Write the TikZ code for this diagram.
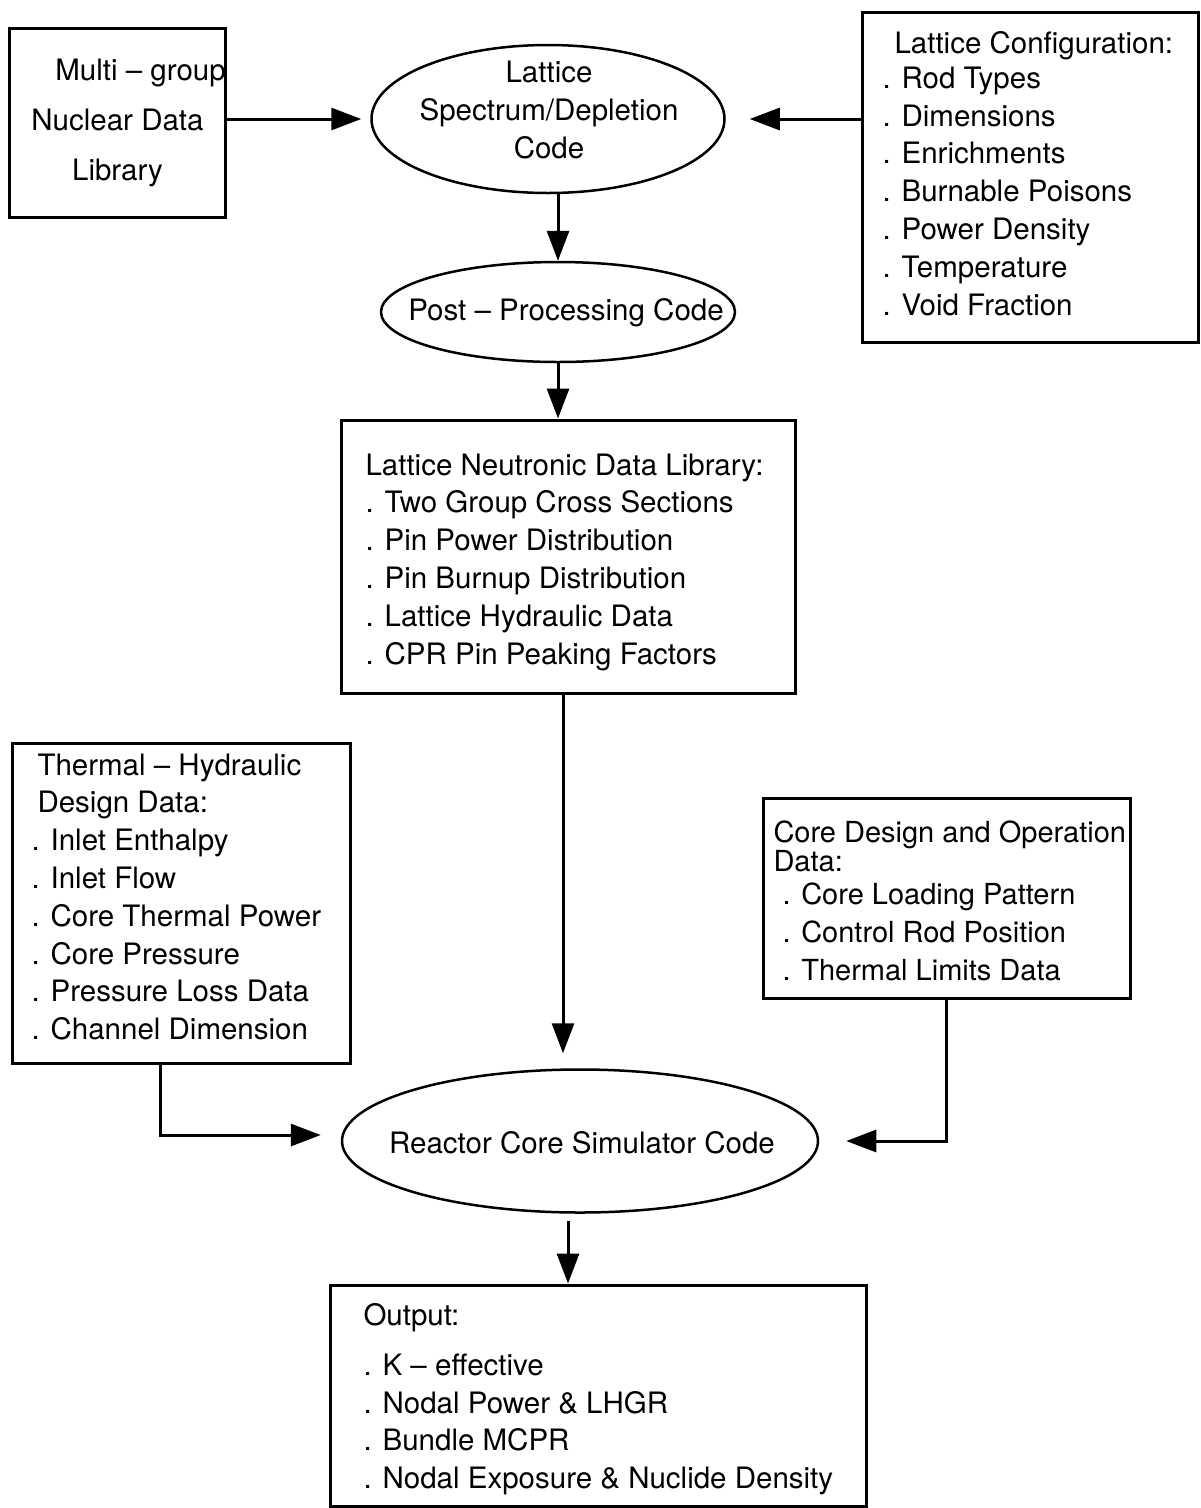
\documentclass[tikz,border=0pt]{standalone}
\usepackage{fontspec}
\setmainfont{TeX Gyre Heros}
\usetikzlibrary{arrows.meta,shapes.geometric}

\tikzset{
	box/.style={draw, line width=3pt},
	oval/.style={draw, ellipse, line width=2.5pt, inner sep=0pt},
	txt/.style={inner sep=0pt, align=left, anchor=north west},
}

\begin{document}
\begin{tikzpicture}[x=1pt, y=-1pt, line width=3pt, arrows={-Triangle[length=30pt,width=22pt]},
	every node/.style={font=\fontsize{29.5}{37.8}\selectfont}]
	\useasboundingbox (0,0) rectangle (1201,1508);

	% inputs of the lattice code
	\node [box, inner sep=0pt, minimum width=211pt, minimum height=189pt, align=center] (mgl) at (117.5,122.5)
		{\hspace*{46pt}Multi -- group\\[12.2pt]Nuclear Data\\[12.2pt]Library};
	\node [oval, minimum width=353pt, minimum height=148pt] (lsd) at (548,119) {};
	\node [align=center, inner sep=0pt] (lsdtext) at (549,110) {Lattice\\Spectrum/Depletion\\Code};
	\node [box, minimum width=336pt, minimum height=330pt] (cfg) at (1030,177) {};
	\node [txt] (cfgtext) at (881,30) {\hspace*{12pt}Lattice Configuration:\\[-3pt]. Rod Types\\. Dimensions\\. Enrichments\\. Burnable Poisons\\. Power Density\\. Temperature\\. Void Fraction};

	\node [oval, minimum width=354pt, minimum height=100pt] (pp) at (558,312) {};
	\node [inner sep=0pt] (pptext) at (566,313) {Post -- Processing Code};

	\node [box, minimum width=454pt, minimum height=273pt] (lib) at (568,556.5) {};
	\node [txt] (libtext) at (364,452) {Lattice Neutronic Data Library:\\. Two Group Cross Sections\\. Pin Power Distribution\\. Pin Burnup Distribution\\. Lattice Hydraulic Data\\. CPR Pin Peaking Factors};

	% inputs of the simulator
	\node [box, minimum width=338pt, minimum height=320pt] (th) at (181,903) {};
	\node [txt] (thtext) at (30,752) {\hspace*{6pt}Thermal -- Hydraulic\\\hspace*{6pt}Design Data:\\. Inlet Enthalpy\\. Inlet Flow\\. Core Thermal Power\\. Core Pressure\\. Pressure Loss Data\\. Channel Dimension};
	\node [box, minimum width=367pt, minimum height=200pt] (cdo) at (946.5,898) {};
	\node [txt, font=\fontsize{29}{37.8}\selectfont] (cdotext) at (772,819) {Core Design and Operation\\[-8pt]Data:\\[-5pt]\hspace*{9pt}. Core Loading Pattern\\\hspace*{9pt}. Control Rod Position\\\hspace*{9pt}. Thermal Limits Data};

	\node [oval, minimum width=476pt, minimum height=143pt] (rcs) at (580,1141) {};
	\node [inner sep=0pt] (rcstext) at (582,1143) {Reactor Core Simulator Code};

	\node [box, minimum width=536pt, minimum height=221pt] (out) at (598,1395.5) {};
	\node [txt] (outtext) at (362,1302) {Output:\\[12pt]. K -- effective\\. Nodal Power \& LHGR\\. Bundle MCPR\\. Nodal Exposure \& Nuclide Density};

	\coordinate (libout) at ([xshift=-5pt]lib.south);
	\coordinate (rcsout) at ([xshift=-12pt]rcs.south);
	\coordinate (thout) at ([xshift=-21pt]th.south);

	\draw [shorten >=9pt] (mgl.east |- lsd.west) -- (lsd.west);
	\draw [shorten >=24pt] (cfg.west |- lsd.east) -- (lsd.east);
	\draw (lsd.south -| pp.north) -- (pp.north);
	\draw (pp.south) -- (pp.south |- lib.north);
	\draw [shorten >=15pt] (libout) -- (libout |- rcs.north);
	\draw [shorten >=20pt] (thout) |- ([yshift=6pt]rcs.west);
	\draw [shorten >=27pt] (cdo.south) |- (rcs.east);
	\draw [shorten <=7pt] (rcsout) -- (rcsout |- out.north);
\end{tikzpicture}
\end{document}
